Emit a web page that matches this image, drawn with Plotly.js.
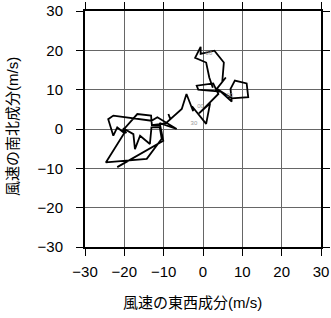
<!DOCTYPE html>
<html>
<head>
<meta charset="utf-8">
<script src="https://cdn.plot.ly/plotly-3.0.1.min.js"></script>
<style>html,body{margin:0;padding:0;background:#fff;}#chart{width:331px;height:318px;}</style>
</head>
<body>
<div id="chart"></div>
<script>
// wind components (m/s): east-west (u) and north-south (v)
const uWind = [-21.8, -10.1, -11.0, -6.7, -11.6, -13.1, -22.8, -24.1, -22.8, -21.8,
  -20.0, -24.7, -14.3, -10.5, -11.0, -13.1, -13.5, -16.0, -17.3, -17.7,
  -20.3, -19.5, -20.5, -16.7, -13.2, -13.0, -9.5, -8.3, -8.8, -8.3,
  -5.4, -4.2, -2.5, -2.8, 0.8, 1.8, -1.0, 3.9, 2.6, -1.6,
  -1.2, 4.5, 7.3, 7.0, 8.1, 11.1, 11.5, 7.3, 3.5, 5.8,
  4.9, 5.3, 2.9, -0.6, -0.6, -2.0, 0.8, 1.6, 2.5];
const vWind = [-9.7, -3.0, 1.5, 0.0, 3.0, 2.1, 3.4, 2.5, -1.7, 0.4,
  -1.0, -8.5, -7.6, -2.5, 0.5, 0.4, -3.8, -1.7, -5.1, -1.3,
  0.2, -1.0, -0.5, 3.8, 3.4, 1.0, 1.4, 2.5, 3.8, 2.5,
  5.1, 8.9, 4.5, 5.8, 1.3, 6.5, 4.0, 8.9, 11.6, 11.0,
  10.0, 9.5, 7.0, 10.2, 12.3, 11.6, 8.1, 7.8, 10.2, 13.1,
  12.0, 16.9, 19.9, 19.1, 20.9, 18.1, 16.9, 13.1, 10.5];
// small time labels
const labelU = [-2.3, -0.6, 6.8, 1.5];
const labelV = [1.4, 5.8, 8.4, 19.2];
const labelText = ['30', '00', '00', '00'];
const xTicks = [-30, -20, -10, 0, 10, 20, 30];
const yTicks = [-30, -20, -10, 0, 10, 20, 30];
const xTitle = '風速の東西成分(m/s)';
const yTitle = '風速の南北成分(m/s)';

const font = 'Liberation Sans, Arial, "Noto Sans CJK JP", sans-serif';

const traces = [
  {x: uWind, y: vWind, type: 'scatter', mode: 'lines',
   line: {color: '#000', width: 1.8}, hoverinfo: 'skip', showlegend: false},
  {x: labelU, y: labelV, type: 'scatter', mode: 'text', text: labelText,
   textfont: {size: 6, color: '#999', family: font}, showlegend: false}
];

const axisCommon = {
  range: [-30, 30], tickmode: 'array',
  showgrid: true, gridcolor: '#666', gridwidth: 1, zeroline: false,
  showline: true, linecolor: '#000', linewidth: 2, mirror: 'ticks',
  ticks: 'outside', ticklen: 7, tickwidth: 1, tickcolor: '#000',
  tickfont: {size: 15, color: '#000', family: font}
};

const layout = {
  width: 331, height: 318,
  margin: {l: 85, r: 10, t: 11, b: 71},
  paper_bgcolor: '#fff', plot_bgcolor: '#fff',
  font: {family: font, color: '#000'},
  xaxis: Object.assign({}, axisCommon, {tickvals: xTicks, ticklabelstandoff: 3}),
  yaxis: Object.assign({}, axisCommon, {tickvals: yTicks, ticklabelstandoff: 10}),
  annotations: [
    {text: xTitle, xref: 'paper', yref: 'paper', x: -0.05, y: -0.235,
     xanchor: 'center', yanchor: 'middle', showarrow: false,
     font: {size: 15, color: '#000', family: font}, xshift: 0},
    {text: yTitle, xref: 'paper', yref: 'paper', x: -0.32, y: 0.5,
     xanchor: 'center', yanchor: 'middle', showarrow: false, textangle: -90,
     font: {size: 15, color: '#000', family: font}}
  ],
  showlegend: false
};
// place x title centered at pixel 192 (plot spans 85..321)
layout.annotations[0].x = (192 - 85) / 236;
layout.annotations[0].y = -(302 - 247) / 236;
layout.annotations[1].x = -(85 - 12) / 236;
layout.annotations[1].y = 1 - (127 - 11) / 236;

Plotly.newPlot('chart', traces, layout, {displayModeBar: false, staticPlot: true});
</script>
</body>
</html>
